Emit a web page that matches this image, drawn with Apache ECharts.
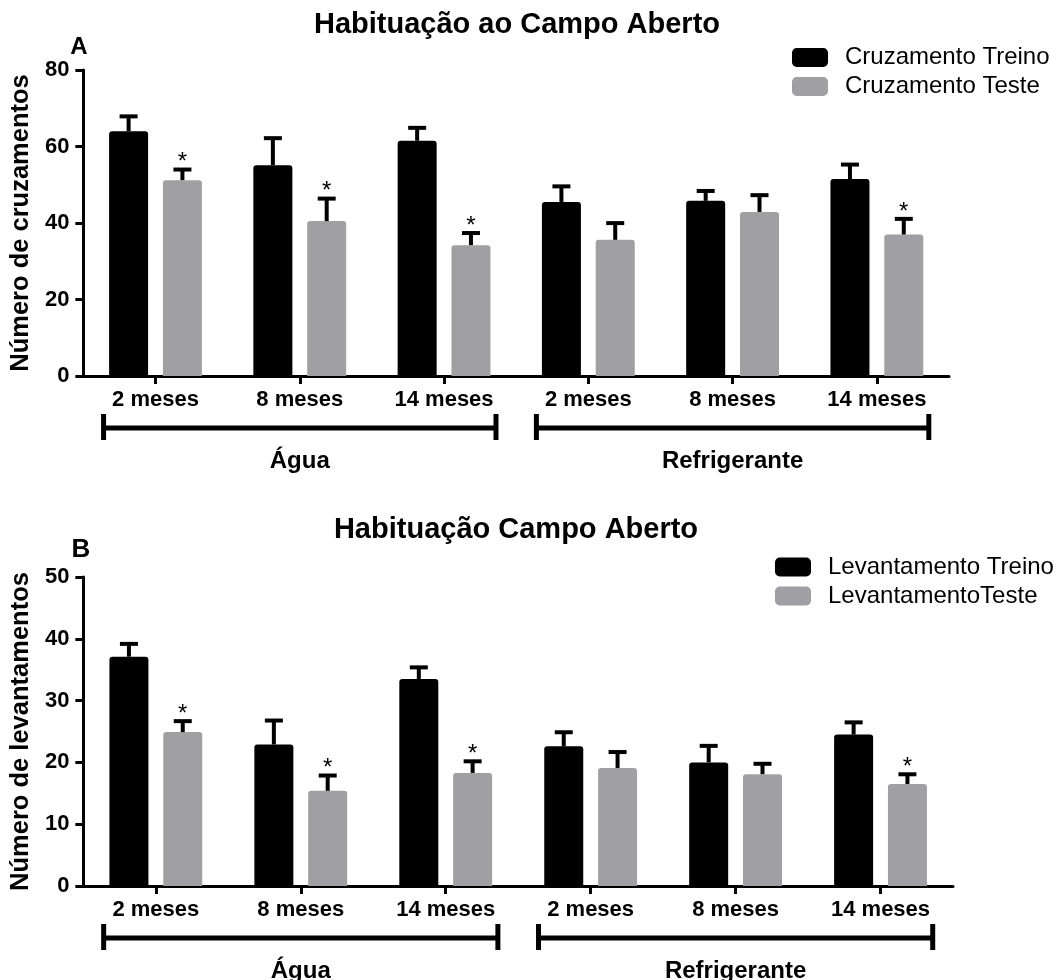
<!DOCTYPE html>
<html>
<head>
<meta charset="utf-8">
<script src="https://cdn.jsdelivr.net/npm/echarts@6/dist/echarts.min.js"></script>
<style>
html,body{margin:0;padding:0;background:#fff;}
#chart{width:1062px;height:980px;}
</style>
</head>
<body>
<div id="chart"></div>
<script>
// ---- data ----
const categories = ['2 meses', '8 meses', '14 meses', '2 meses', '8 meses', '14 meses'];
const groupNames = ['Água', 'Refrigerante'];
const groupStart = [0, 3];
const groupEnd = [2, 5];

const titleA = 'Habituação ao Campo Aberto';
const titleB = 'Habituação Campo Aberto';
const yNameA = 'Número de cruzamentos';
const yNameB = 'Número de levantamentos';
const seriesNamesA = ['Cruzamento Treino', 'Cruzamento Teste'];
const seriesNamesB = ['Levantamento Treino', 'LevantamentoTeste'];

const yMinA = 0, yMaxA = 80, yStepA = 20;
const yMinB = 0, yMaxB = 50, yStepB = 10;

const cruzTreino    = [64.0, 55.1, 61.5, 45.5, 45.8, 51.5];
const cruzTreinoSEM = [4.4, 7.6, 3.9, 4.6, 3.1, 4.3];
const cruzTeste     = [51.2, 40.5, 34.2, 35.6, 42.9, 37.0];
const cruzTesteSEM  = [3.3, 6.4, 3.7, 4.9, 4.9, 4.6];
const cruzTreinoSig = [0, 0, 0, 0, 0, 0];
const cruzTesteSig  = [1, 1, 1, 0, 0, 1];

const levTreino     = [37.1, 22.9, 33.5, 22.6, 20.0, 24.5];
const levTreinoSEM  = [2.4, 4.2, 2.2, 2.6, 3.0, 2.3];
const levTeste      = [24.9, 15.4, 18.3, 19.1, 18.1, 16.5];
const levTesteSEM   = [2.1, 2.8, 2.2, 2.9, 2.0, 1.9];
const levTreinoSig  = [0, 0, 0, 0, 0, 0];
const levTesteSig   = [1, 1, 1, 0, 0, 1];

// ---- styles ----
const FONT = "'Liberation Sans', Arial, sans-serif";
const BLACK = '#000000';
const GRAY = '#a0a0a4';
const BAR_W = 39;
const BAR_GAP = 0.38;

function barSeries(name, data, color, gi) {
  return {
    type: 'bar', name: name, data: data,
    xAxisIndex: gi, yAxisIndex: gi,
    barWidth: BAR_W, barGap: (BAR_GAP * 100) + '%',
    itemStyle: { color: color, borderRadius: [3, 3, 0, 0] },
    emphasis: { disabled: true },
    z: 2
  };
}

function errSeries(means, sems, sig, side, gi) {
  const data = means.map((m, i) => [i, m, m + sems[i], sig[i]]);
  return {
    type: 'custom',
    xAxisIndex: gi, yAxisIndex: gi,
    data: data,
    z: 3,
    silent: true,
    renderItem: function (params, api) {
      const idx = api.value(0);
      const base = api.coord([idx, api.value(1)]);
      const top = api.coord([idx, api.value(2)]);
      const off = side * (BAR_W + BAR_W * BAR_GAP) / 2;
      const x = base[0] + off;
      const children = [
        { type: 'line', shape: { x1: x, y1: base[1], x2: x, y2: top[1] + 2 },
          style: { stroke: BLACK, lineWidth: 4 } },
        { type: 'rect', shape: { x: x - 9, y: top[1], width: 18, height: 4 },
          style: { fill: BLACK } }
      ];
      if (api.value(3)) {
        children.push({ type: 'text',
          style: { text: '*', x: x, y: top[1] - 5, align: 'center', verticalAlign: 'middle',
                   font: 'normal 24px ' + FONT, fill: BLACK } });
      }
      return { type: 'group', children: children };
    }
  };
}

function bracketSeries(gi) {
  const data = groupStart.map((s, i) => [s, groupEnd[i]]);
  return {
    type: 'custom',
    xAxisIndex: gi, yAxisIndex: gi,
    data: data,
    silent: true,
    clip: false,
    renderItem: function (params, api) {
      const i = params.dataIndex;
      const p0 = api.coord([api.value(0), 0]);
      const p1 = api.coord([api.value(1), 0]);
      const band = api.size([1, 0])[0];
      const x0 = p0[0] - 0.36 * band;
      const x1 = p1[0] + 0.36 * band;
      const y = p0[1] + 52;
      return { type: 'group', children: [
        { type: 'line', shape: { x1: x0, y1: y, x2: x1, y2: y }, style: { stroke: BLACK, lineWidth: 5 } },
        { type: 'line', shape: { x1: x0, y1: y - 14, x2: x0, y2: y + 12 }, style: { stroke: BLACK, lineWidth: 5 } },
        { type: 'line', shape: { x1: x1, y1: y - 14, x2: x1, y2: y + 12 }, style: { stroke: BLACK, lineWidth: 5 } },
        { type: 'text', style: { text: groupNames[i], x: (x0 + x1) / 2, y: y + 33, align: 'center',
            verticalAlign: 'middle', font: 'bold 24px ' + FONT, fill: BLACK } }
      ] };
    }
  };
}

function xAxisCfg(gi) {
  return {
    type: 'category', gridIndex: gi, data: categories,
    axisLine: { show: true, lineStyle: { color: BLACK, width: 3 } },
    axisTick: { show: true, alignWithLabel: true, length: 8, lineStyle: { color: BLACK, width: 3 } },
    axisLabel: { interval: 0, margin: 13, color: BLACK, fontSize: 22, fontWeight: 'bold', fontFamily: FONT },
    splitLine: { show: false }
  };
}
function yAxisCfg(gi, min, max, step, name) {
  return {
    type: 'value', gridIndex: gi, min: min, max: max, interval: step,
    name: name, nameLocation: 'middle', nameGap: 42,
    nameTextStyle: { color: BLACK, fontSize: 25.5, fontWeight: 'bold', fontFamily: FONT },
    axisLine: { show: true, lineStyle: { color: BLACK, width: 3 } },
    axisTick: { show: true, length: 8, lineStyle: { color: BLACK, width: 3 } },
    axisLabel: { margin: 14, color: BLACK, fontSize: 22, fontWeight: 'bold', fontFamily: FONT },
    splitLine: { show: false }
  };
}
function legendCfg(names, left, top) {
  return {
    data: names, orient: 'vertical', left: left, top: top, padding: 0,
    itemWidth: 36, itemHeight: 19, itemGap: 5, icon: 'roundRect',
    selectedMode: false,
    textStyle: { fontSize: 24, fontFamily: FONT, color: BLACK, lineHeight: 24, padding: [0, 0, 0, 12] }
  };
}

const chart = echarts.init(document.getElementById('chart'), null, { renderer: 'canvas' });
chart.setOption({
  animation: false,
  backgroundColor: '#ffffff',
  graphic: [
    { type: 'text', x: 517, y: 25, style: { text: titleA, align: 'center', verticalAlign: 'middle', font: 'bold 29px ' + FONT, fill: BLACK } },
    { type: 'text', x: 516, y: 530, style: { text: titleB, align: 'center', verticalAlign: 'middle', font: 'bold 29px ' + FONT, fill: BLACK } },
    { type: 'text', x: 79, y: 47, style: { text: 'A', align: 'center', verticalAlign: 'middle', font: 'bold 24px ' + FONT, fill: BLACK } },
    { type: 'text', x: 81, y: 550, style: { text: 'B', align: 'center', verticalAlign: 'middle', font: 'bold 26px ' + FONT, fill: BLACK } }
  ],
  legend: [legendCfg(seriesNamesA, 792, 45.5), legendCfg(seriesNamesB, 775, 555)],
  grid: [
    { left: 81, right: 113, top: 70, bottom: 604 },
    { left: 81, right: 109, top: 577, bottom: 94 }
  ],
  xAxis: [xAxisCfg(0), xAxisCfg(1)],
  yAxis: [yAxisCfg(0, yMinA, yMaxA, yStepA, yNameA), yAxisCfg(1, yMinB, yMaxB, yStepB, yNameB)],
  series: [
    barSeries(seriesNamesA[0], cruzTreino, BLACK, 0),
    barSeries(seriesNamesA[1], cruzTeste, GRAY, 0),
    errSeries(cruzTreino, cruzTreinoSEM, cruzTreinoSig, -1, 0),
    errSeries(cruzTeste, cruzTesteSEM, cruzTesteSig, 1, 0),
    bracketSeries(0),
    barSeries(seriesNamesB[0], levTreino, BLACK, 1),
    barSeries(seriesNamesB[1], levTeste, GRAY, 1),
    errSeries(levTreino, levTreinoSEM, levTreinoSig, -1, 1),
    errSeries(levTeste, levTesteSEM, levTesteSig, 1, 1),
    bracketSeries(1)
  ]
});
</script>
</body>
</html>
